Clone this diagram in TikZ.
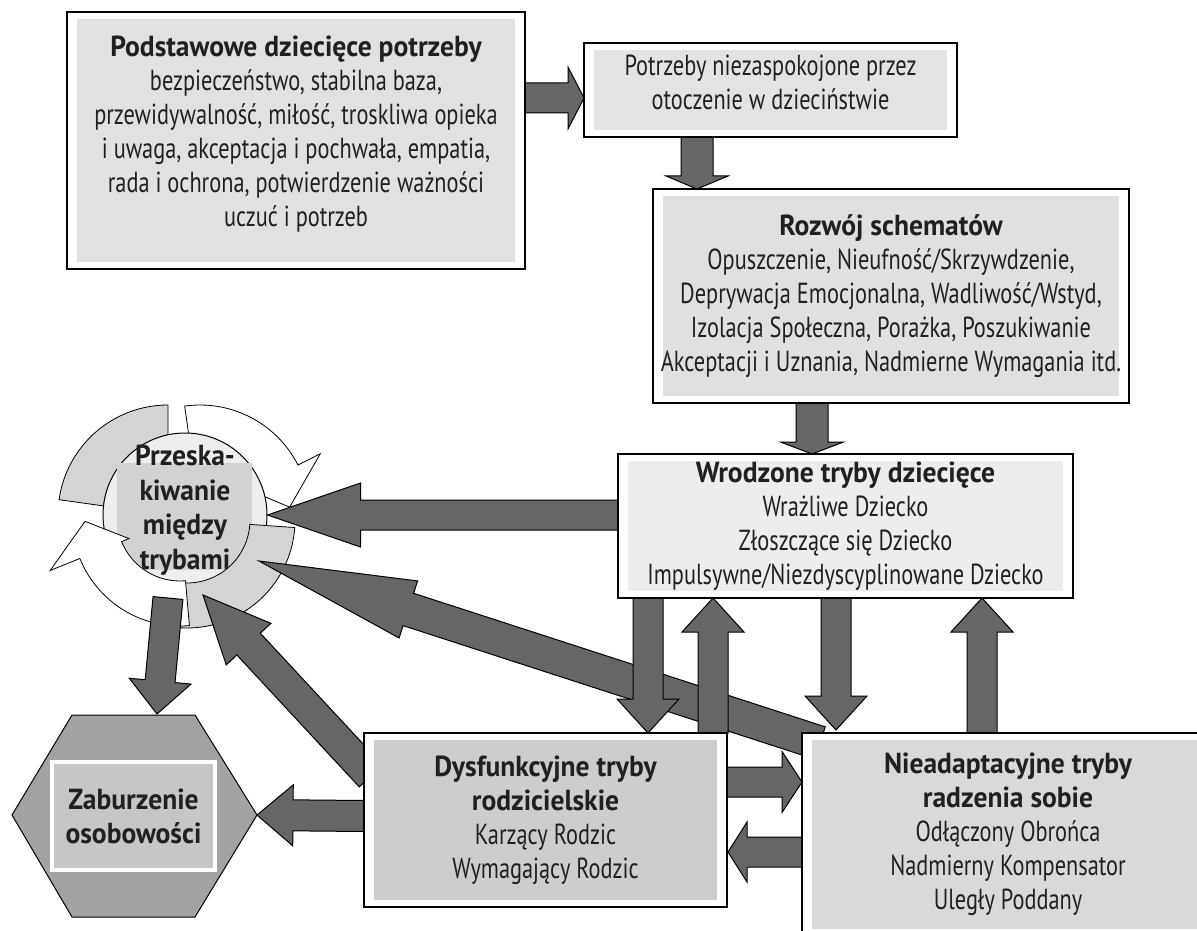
\documentclass[tikz,border=0pt]{standalone}
\usepackage{fontspec}
\setmainfont{PT Sans}[FakeStretch=0.77]
\newfontfamily\titlefont{PT Sans Bold}[FakeStretch=0.95]
\usetikzlibrary{calc}

\definecolor{ink}{HTML}{231F20}
\definecolor{arrowgrey}{HTML}{666666}
\definecolor{fillneeds}{HTML}{E1E1E1}
\definecolor{fillunmet}{HTML}{E3E3E3}
\definecolor{fillschema}{HTML}{E0E0E0}
\definecolor{fillchild}{HTML}{EDEDED}
\definecolor{fillparent}{HTML}{CDCDCD}
\definecolor{fillcoping}{HTML}{D9D9D9}
\definecolor{hexgrey}{HTML}{A3A3A3}
\definecolor{hexinner}{HTML}{C6C6C6}
\definecolor{ringlight}{HTML}{D4D4D4}
\definecolor{hopfill}{HTML}{EEEEEE}
\definecolor{hoprect}{HTML}{D2D2D2}

\newcommand{\ttl}[1]{{\titlefont #1}}

\tikzset{
  font=\fontsize{14.5pt}{17pt}\selectfont,
  %
  box/.style={
    draw=black, line width=0.6pt, fill=white, inner sep=0pt, align=center, text=ink,
    path picture={\fill[#1]
      ($(path picture bounding box.south west)+(5pt,3.5pt)$) rectangle
      ($(path picture bounding box.north east)+(-5pt,-3.5pt)$);},
  },
  %
  darrow/.style={fill=arrowgrey, draw=black, line width=0.5pt},
  ringgrey/.style={fill=ringlight, draw=black, line width=0.4pt},
  ringwhite/.style={fill=white, draw=black, line width=0.4pt},
  hexa/.style={fill=hexgrey, draw=black, line width=0.5pt},
  hexin/.style={fill=hexinner, draw=white, line width=2pt, inner sep=0pt,
                minimum width=81.5pt, minimum height=54pt, align=center,
                text=ink, font=\fontsize{14.5pt}{17pt}\titlefont},
  hoptext/.style={align=center, text=ink, inner sep=0pt,
                  font=\fontsize{14.5pt}{17.3pt}\titlefont},
}

% block arrow: tail, tip, shaft half width, head length, head half width
\newcommand{\blockarr}[5]{%
  \coordinate (ba-h) at ($(#2)!#4!(#1)$);
  \draw[darrow] ($(#1)!#3!90:(#2)$) -- ($(ba-h)!#3!90:(#2)$) -- ($(ba-h)!#5!90:(#2)$)
    -- (#2) -- ($(ba-h)!#5!-90:(#2)$) -- ($(ba-h)!#3!-90:(#2)$)
    -- ($(#1)!#3!-90:(#2)$) -- cycle;}

\begin{document}
\begin{tikzpicture}[x=0.5pt, y=-0.5pt]

  \useasboundingbox (0,0) rectangle (1197,930);
  \clip (0,0) rectangle (1197,930);

  % cycle symbol round the switching label
  \coordinate (cul) at (168,515);
  \coordinate (cur) at (200,515);
  \coordinate (clr) at (187,520);
  \coordinate (cll) at (180,518);
  \draw[ringgrey] ($(cul)+(188:110)$) arc[start angle=188, end angle=270, radius=110]
    -- ($(cul)+(270:65)$) arc[start angle=270, end angle=188, radius=65] -- cycle;
  \draw[ringwhite] ($(cur)+(262:110)$) arc[start angle=262, end angle=333, radius=110]
    -- ($(cur)+(333:135)$) -- ($(cur)+(355:90)$) -- ($(cur)+(333:55)$)
    -- ($(cur)+(333:65)$) arc[start angle=333, end angle=262, radius=65] -- cycle;
  \node[circle, draw=black, line width=0.5pt, fill=hopfill, inner sep=0pt,
        minimum size=82pt] (hop) at (185,515) {};
  \fill[hoprect] (117,463) rectangle (252,570);
  \draw[ringgrey] ($(clr)+(4:108)$) arc[start angle=4, end angle=95, radius=108]
    -- ($(clr)+(95:63)$) arc[start angle=95, end angle=4, radius=63] -- cycle;
  \draw[ringwhite] ($(cll)+(85:108)$) arc[start angle=85, end angle=158, radius=108]
    -- ($(cll)+(158:140)$) -- ($(cll)+(178:95)$) -- ($(cll)+(158:55)$)
    -- ($(cll)+(158:63)$) arc[start angle=158, end angle=85, radius=63] -- cycle;
  \node[hoptext] (hoptxt) at (185,510) {Przeska-\\kiwanie\\między\\trybami};

  % the disorder hexagon
  \draw[hexa] (72,715) -- (195,715) -- (257,815) -- (195,917) -- (72,917)
    -- (12,815) -- cycle;
  \coordinate (hexR) at (257,815);
  \coordinate (hexT) at (157,714);
  \node[hexin] (disorder) at (133.5,816) {Zaburzenie\\osobowości};

  % arrow ends
  \coordinate (a1t) at (525,98);   \coordinate (a1h) at (584,98);
  \coordinate (a2t) at (697,137);  \coordinate (a2h) at (697,189);
  \coordinate (a3t) at (812,403);  \coordinate (a3h) at (812,454);
  \coordinate (a4t) at (618,515);
  \coordinate (a9t) at (727,782);  \coordinate (a9h) at (802,782);
  \coordinate (a10t) at (802,852); \coordinate (a10h) at (728,852);
  \coordinate (a11t) at (364,816);
  \coordinate (a12t) at (168,598);
  \coordinate (a13t) at (371,776); \coordinate (a13h) at (203,595);
  \coordinate (a14t) at (820,743); \coordinate (a14h) at (259,561);

  % into the cycle and the hexagon
  \blockarr{a14t}{a14h}{8.5pt}{78.5pt}{15pt}
  \blockarr{a13t}{a13h}{8pt}{33.5pt}{15.25pt}
  \blockarr{a4t}{hop.east}{7.5pt}{46.5pt}{16pt}
  \blockarr{a12t}{hexT}{7.5pt}{16.5pt}{15.5pt}
  \blockarr{a11t}{hexR}{7.75pt}{18pt}{15.25pt}

  % between the modes
  \foreach \x/\ya/\yb in {648/598/733, 713/733/598, 836/598/730, 982/733/598} {
    \coordinate (vt) at (\x,\ya);
    \coordinate (vh) at (\x,\yb);
    \blockarr{vt}{vh}{7.5pt}{17pt}{15.5pt}
  }
  \blockarr{a9t}{a9h}{7.5pt}{10pt}{15.25pt}
  \blockarr{a10t}{a10h}{7.5pt}{9.5pt}{15pt}

  % top chain
  \blockarr{a1t}{a1h}{7.5pt}{8pt}{15.5pt}
  \blockarr{a2t}{a2h}{8pt}{6.5pt}{15.5pt}
  \blockarr{a3t}{a3h}{8pt}{6pt}{15.75pt}

  % boxes
  \node[box=fillneeds, minimum width=229pt, minimum height=128.5pt] (needs) at (296,140.5)
    {\ttl{Podstawowe dziecięce potrzeby}\\bezpieczeństwo, stabilna baza,\\
     przewidywalność, miłość, troskliwa opieka\\i uwaga, akceptacja i pochwała, empatia,\\
     rada i ochrona, potwierdzenie ważności\\uczuć i potrzeb\\[-8pt]\mbox{}};
  \node[box=fillunmet, minimum width=186.5pt, minimum height=47pt] (unmet) at (770.5,90)
    {Potrzeby niezaspokojone przez\\otoczenie w dzieciństwie\\[-9pt]\mbox{}};
  \node[box=fillschema, minimum width=238pt, minimum height=107pt] (schema) at (891,296)
    {\ttl{Rozwój schematów}\\Opuszczenie, Nieufność/Skrzywdzenie,\\
     Deprywacja Emocjonalna, Wadliwość/Wstyd,\\Izolacja Społeczna, Porażka, Poszukiwanie\\
     Akceptacji i Uznania, Nadmierne Wymagania itd.};
  \node[box=fillchild, minimum width=227.5pt, minimum height=72pt] (child) at (845.5,526)
    {\ttl{Wrodzone tryby dziecięce}\\Wrażliwe Dziecko\\Złoszczące się Dziecko\\
     Impulsywne/Niezdyscyplinowane Dziecko};
  \node[box=fillparent, minimum width=181.5pt, minimum height=87pt] (parent) at (545.5,820)
    {\ttl{Dysfunkcyjne tryby}\\\ttl{rodzicielskie}\\Karzący Rodzic\\Wymagający Rodzic};
  \node[box=fillcoping, minimum width=206pt, minimum height=101.5pt] (coping) at (1008,834.5)
    {\ttl{Nieadaptacyjne tryby}\\\ttl{radzenia sobie}\\Odłączony Obrońca\\
     Nadmierny Kompensator\\Uległy Poddany};

\end{tikzpicture}
\end{document}
